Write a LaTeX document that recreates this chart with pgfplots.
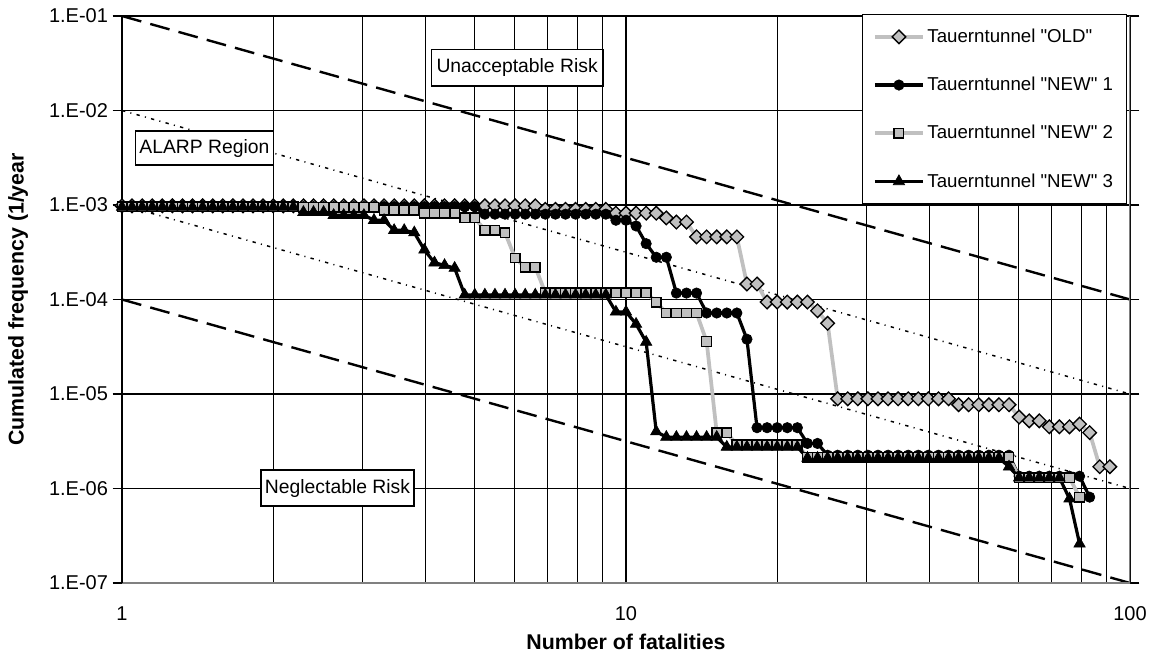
\documentclass[border=0pt]{standalone}
\usepackage{pgfplots}
\pgfplotsset{compat=1.18}
\usepackage{pgfplotstable}
\usepackage{fontspec}
\setmainfont{Liberation Sans}
\definecolor{lgray}{RGB}{192,192,192}
\definecolor{fgray}{RGB}{128,128,128}

\pgfplotstableread{
x old n1 n2 n3
1 9.8e-4 9.6e-4 9.6e-4 9.5e-4
1.0471 9.8e-4 9.6e-4 9.6e-4 9.5e-4
1.0965 9.8e-4 9.6e-4 9.6e-4 9.5e-4
1.1482 9.8e-4 9.6e-4 9.6e-4 9.5e-4
1.2023 9.8e-4 9.6e-4 9.6e-4 9.5e-4
1.2589 9.8e-4 9.6e-4 9.6e-4 9.5e-4
1.3183 9.8e-4 9.6e-4 9.6e-4 9.5e-4
1.3804 9.8e-4 9.6e-4 9.6e-4 9.5e-4
1.4454 9.8e-4 9.6e-4 9.6e-4 9.5e-4
1.5136 9.8e-4 9.6e-4 9.6e-4 9.5e-4
1.5849 9.8e-4 9.6e-4 9.6e-4 9.5e-4
1.6596 9.8e-4 9.6e-4 9.6e-4 9.5e-4
1.7378 9.8e-4 9.6e-4 9.6e-4 9.5e-4
1.8197 9.8e-4 9.6e-4 9.6e-4 9.5e-4
1.9055 9.8e-4 9.6e-4 9.6e-4 9.5e-4
1.9953 9.8e-4 9.6e-4 9.6e-4 9.5e-4
2.0893 9.8e-4 9.6e-4 9.6e-4 9.5e-4
2.1878 9.8e-4 9.6e-4 9.6e-4 9.5e-4
2.2909 9.8e-4 9.6e-4 9.5e-4 8.4e-4
2.3988 9.8e-4 9.6e-4 9.5e-4 8.4e-4
2.5119 9.8e-4 9.6e-4 9.5e-4 8.4e-4
2.6303 9.8e-4 9.6e-4 9.5e-4 7.8e-4
2.7542 9.8e-4 9.6e-4 9.5e-4 7.8e-4
2.884 9.8e-4 9.6e-4 9.5e-4 7.8e-4
3.02 9.8e-4 9.6e-4 9.5e-4 7.8e-4
3.1623 9.8e-4 9.6e-4 9.5e-4 6.9e-4
3.3113 9.8e-4 9.6e-4 8.8e-4 6.9e-4
3.4674 9.8e-4 9.6e-4 8.8e-4 5.4e-4
3.6308 9.8e-4 9.6e-4 8.8e-4 5.4e-4
3.8019 9.8e-4 9.6e-4 8.8e-4 5.1e-4
3.9811 9.8e-4 9.6e-4 8.2e-4 3.35e-4
4.1687 9.8e-4 9.6e-4 8.2e-4 2.45e-4
4.3652 9.8e-4 9.6e-4 8.2e-4 2.3e-4
4.5709 9.8e-4 9.6e-4 8.2e-4 2.15e-4
4.7863 9.8e-4 9.6e-4 7.3e-4 1.12e-4
5.0119 9.8e-4 9.6e-4 7.3e-4 1.12e-4
5.2481 9.8e-4 8.0e-4 5.4e-4 1.12e-4
5.4954 9.8e-4 8.0e-4 5.4e-4 1.12e-4
5.7544 9.8e-4 8.0e-4 5.1e-4 1.12e-4
6.0256 9.8e-4 8.0e-4 2.75e-4 1.12e-4
6.3096 9.8e-4 8.0e-4 2.2e-4 1.12e-4
6.6069 9.8e-4 8.0e-4 2.2e-4 1.12e-4
6.9183 9.0e-4 8.0e-4 1.18e-4 1.12e-4
7.2444 9.0e-4 8.0e-4 1.18e-4 1.12e-4
7.5858 9.0e-4 8.0e-4 1.18e-4 1.12e-4
7.9433 9.0e-4 8.0e-4 1.18e-4 1.12e-4
8.3176 9.0e-4 8.0e-4 1.18e-4 1.12e-4
8.7096 9.0e-4 8.0e-4 1.18e-4 1.12e-4
9.1201 9.0e-4 8.0e-4 1.18e-4 1.12e-4
9.5499 8.2e-4 6.9e-4 1.18e-4 7.4e-5
10 8.2e-4 6.9e-4 1.18e-4 7.4e-5
10.471 8.2e-4 6.0e-4 1.18e-4 5.5e-5
10.965 8.2e-4 3.9e-4 1.18e-4 3.55e-5
11.482 8.2e-4 2.8e-4 9.4e-5 4.0e-6
12.023 7.3e-4 2.8e-4 7.2e-5 3.5e-6
12.589 6.6e-4 1.17e-4 7.2e-5 3.5e-6
13.183 6.6e-4 1.17e-4 7.2e-5 3.5e-6
13.804 4.6e-4 1.17e-4 7.2e-5 3.5e-6
14.454 4.6e-4 7.2e-5 3.6e-5 3.5e-6
15.136 4.6e-4 7.2e-5 3.9e-6 3.5e-6
15.849 4.6e-4 7.2e-5 3.9e-6 2.75e-6
16.596 4.6e-4 7.2e-5 2.9e-6 2.75e-6
17.378 1.46e-4 3.8e-5 2.9e-6 2.75e-6
18.197 1.46e-4 4.4e-6 2.9e-6 2.75e-6
19.055 9.4e-5 4.4e-6 2.9e-6 2.75e-6
19.953 9.4e-5 4.4e-6 2.9e-6 2.75e-6
20.893 9.4e-5 4.4e-6 2.9e-6 2.75e-6
21.878 9.4e-5 4.4e-6 2.9e-6 2.75e-6
22.909 9.4e-5 3.0e-6 2.15e-6 2.1e-6
23.988 7.6e-5 3.0e-6 2.15e-6 2.1e-6
25.119 5.6e-5 2.25e-6 2.15e-6 2.1e-6
26.303 8.9e-6 2.25e-6 2.15e-6 2.1e-6
27.542 8.9e-6 2.25e-6 2.15e-6 2.1e-6
28.84 8.9e-6 2.25e-6 2.15e-6 2.1e-6
30.2 8.9e-6 2.25e-6 2.15e-6 2.1e-6
31.623 8.9e-6 2.25e-6 2.15e-6 2.1e-6
33.113 8.9e-6 2.25e-6 2.15e-6 2.1e-6
34.674 8.9e-6 2.25e-6 2.15e-6 2.1e-6
36.308 8.9e-6 2.25e-6 2.15e-6 2.1e-6
38.019 8.9e-6 2.25e-6 2.15e-6 2.1e-6
39.811 8.9e-6 2.25e-6 2.15e-6 2.1e-6
41.687 8.9e-6 2.25e-6 2.15e-6 2.1e-6
43.652 8.9e-6 2.25e-6 2.15e-6 2.1e-6
45.709 7.7e-6 2.25e-6 2.15e-6 2.1e-6
47.863 7.7e-6 2.25e-6 2.15e-6 2.1e-6
50.119 7.7e-6 2.25e-6 2.15e-6 2.1e-6
52.481 7.7e-6 2.25e-6 2.15e-6 2.1e-6
54.954 7.7e-6 2.25e-6 2.15e-6 2.1e-6
57.544 7.7e-6 2.25e-6 2.15e-6 1.7e-6
60.256 5.7e-6 1.35e-6 1.3e-6 1.3e-6
63.096 5.2e-6 1.35e-6 1.3e-6 1.3e-6
66.069 5.2e-6 1.35e-6 1.3e-6 1.3e-6
69.183 4.5e-6 1.35e-6 1.3e-6 1.3e-6
72.444 4.5e-6 1.35e-6 1.3e-6 1.3e-6
75.858 4.5e-6 1.35e-6 1.3e-6 7.8e-7
79.433 4.8e-6 1.35e-6 8.1e-7 2.6e-7
83.176 3.9e-6 8.1e-7 nan nan
87.096 1.7e-6 nan nan nan
91.201 1.7e-6 nan nan nan
}\fn

\begin{document}
\begin{tikzpicture}
\path[use as bounding box] (-91.5pt,-59.25pt) rectangle (771pt,437.25pt);
\begin{axis}[
  at={(0pt,0pt)}, anchor=south west,
  scale only axis, width=756pt, height=425.25pt,
  xmode=log, ymode=log,
  xmin=1, xmax=100, ymin=1e-7, ymax=1e-1,
  xtick={1,10,100}, xticklabels={1,10,100},
  minor xtick={2,3,4,5,6,7,8,9,20,30,40,50,60,70,80,90},
  ytick={1e-7,1e-6,1e-5,1e-4,1e-3,1e-2,1e-1},
  yticklabels={1.E-07,1.E-06,1.E-05,1.E-04,1.E-03,1.E-02,1.E-01},
  xmajorgrids, xminorgrids, ymajorgrids,
  grid style={black, line width=0.8pt},
  minor grid style={black, line width=0.8pt},
  xtick style={draw=none},
  ytick style={black, line width=1pt},
  tick align=outside, major tick length=7pt, minor tick length=0pt,
  ticklabel style={font=\fontsize{15}{18}\selectfont},
  xticklabel style={yshift=-7pt},
  axis line style={black, line width=1.2pt},
  xlabel={Number of fatalities},
  ylabel={Cumulated frequency (1/year},
  label style={font=\fontsize{16}{19}\selectfont\bfseries},
  xlabel style={at={(axis description cs:0.5,-0.103)}, anchor=center},
  ylabel style={at={(axis description cs:-0.103,0.5)}, anchor=center},
  legend style={at={(rel axis cs:0.997,1.004)}, anchor=north east, draw=black, line width=1pt,
    font=\fontsize{14}{16}\selectfont, row sep=20.5pt, inner xsep=8pt, inner ysep=9pt},
  legend cell align=left,
  legend image code/.code={\draw[mark repeat=2,mark phase=2] plot coordinates {(0pt,0pt) (18pt,0pt) (36pt,0pt)};},
]
\addplot[black, line width=1.8pt, dash pattern=on 15pt off 7pt, forget plot] coordinates {(1,1e-1) (100,1e-4)};
\addplot[black, line width=1.8pt, dash pattern=on 15pt off 7pt, forget plot] coordinates {(1,1e-4) (100,1e-7)};
\addplot[black, line width=1.1pt, dash pattern=on 2.5pt off 4pt on 0.8pt off 4pt, forget plot] coordinates {(1,1e-2) (100,1e-5)};
\addplot[black, line width=1.1pt, dash pattern=on 2.5pt off 4pt on 0.8pt off 4pt, forget plot] coordinates {(1,1e-3) (100,1e-6)};

\addplot[lgray, line width=2.8pt, mark=square*, mark size=3.6pt,
  mark options={rotate=45, fill=lgray, draw=black, line width=1pt, solid}] table[x=x,y=old]{\fn};
\addlegendentry{Tauerntunnel \textquotedbl OLD\textquotedbl}
\addplot[black, line width=2.4pt, mark=*, mark size=3.9pt,
  mark options={fill=black, draw=black, line width=0.5pt, solid}] table[x=x,y=n1]{\fn};
\addlegendentry{Tauerntunnel \textquotedbl NEW\textquotedbl\ 1}
\addplot[lgray, line width=2.8pt, mark=square*, mark size=3.6pt,
  mark options={fill=lgray, draw=black, line width=1pt, solid}] table[x=x,y=n2]{\fn};
\addlegendentry{Tauerntunnel \textquotedbl NEW\textquotedbl\ 2}
\addplot[black, line width=2.4pt, mark=triangle*, mark size=4.9pt,
  mark options={fill=black, draw=black, line width=0.5pt, solid}] table[x=x,y=n3]{\fn};
\addlegendentry{Tauerntunnel \textquotedbl NEW\textquotedbl\ 3}

\draw[fgray, line width=2pt] (rel axis cs:0,0) -- (rel axis cs:1,0) -- (rel axis cs:1,1);
\draw[black, line width=1.5pt] (rel axis cs:0,0) -- (rel axis cs:0,1);

\node[draw=black, fill=white, line width=1pt, font=\fontsize{14.5}{17}\selectfont, inner xsep=4pt, inner ysep=0pt, minimum height=27.5pt] at (rel axis cs:0.392,0.909) {Unacceptable Risk};
\node[draw=black, fill=white, line width=1pt, font=\fontsize{14.5}{17}\selectfont, inner xsep=3pt, inner ysep=0pt, minimum height=25.5pt] at (rel axis cs:0.0818,0.767) {ALARP Region};
\node[draw=black, fill=white, line width=1pt, font=\fontsize{14.5}{17}\selectfont, inner xsep=3pt, inner ysep=0pt, minimum height=27pt] at (rel axis cs:0.2138,0.1675) {Neglectable Risk};
\end{axis}
\end{tikzpicture}
\end{document}
